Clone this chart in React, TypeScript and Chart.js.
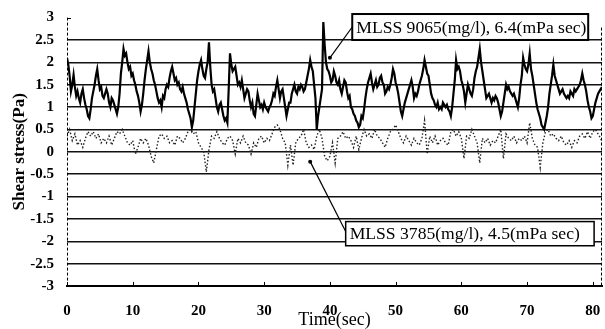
import React, { useEffect, useRef } from "react";
import { Chart, registerables } from "chart.js";

Chart.register(...registerables);

const HIGH_STEP = 0.2; // seconds between samples (MLSS 9065)
const LOW_STEP = 0.4; // seconds between samples (MLSS 3785)
const X_TICKS = [0, 10, 20, 30, 40, 50, 60, 70, 80];

const SERIES_HIGH_LABEL = "MLSS 9065(mg/l), 6.4(mPa sec)";
const SERIES_LOW_LABEL = "MLSS 3785(mg/l), 4.5(mPa sec)";

const highStress = [
  2.1, 1.95, 1.7, 1.35, 1.5, 1.72, 1.45, 1.25, 1.35, 1.2,
  1.1, 1.3, 1.4, 1.2, 1.05, 0.95, 0.8, 0.75, 0.95, 1.2,
  1.35, 1.5, 1.7, 1.85, 1.6, 1.4, 1.45, 1.25, 1.2, 1.3,
  1.4, 1.3, 1.1, 1.0, 1.2, 1.15, 1.05, 0.95, 0.85, 1.0,
  1.3, 1.75, 2.0, 2.3, 2.15, 2.2, 2.0, 1.85, 1.9, 1.7,
  1.75, 1.6, 1.5, 1.35, 1.25, 1.1, 0.9, 1.05, 1.3, 1.6,
  1.85, 2.05, 2.25, 2.0, 1.85, 1.75, 1.6, 1.5, 1.35, 1.2,
  1.1, 1.15, 1.0, 1.25, 1.2, 1.4, 1.5, 1.45, 1.65, 1.8,
  1.9, 1.75, 1.6, 1.65, 1.5, 1.55, 1.4, 1.35, 1.45, 1.3,
  1.2, 1.1, 0.95, 0.85, 0.75, 0.55, 0.7, 1.0, 1.3, 1.6,
  1.8, 1.95, 2.05, 1.85, 1.7, 1.65, 1.85, 2.0, 2.45, 1.9,
  1.5, 1.35, 1.4, 1.2, 1.0, 0.9, 1.05, 1.1, 0.95, 0.8,
  0.7, 0.75, 0.65, 1.4, 2.2, 1.95, 1.8, 1.85, 1.9, 1.7,
  1.5, 1.55, 1.45, 1.6, 1.4, 1.2, 1.3, 1.4, 1.35, 1.15,
  1.0, 1.1, 0.85, 0.8, 1.05, 1.3, 1.15, 1.0, 1.05, 0.95,
  1.1, 1.0, 0.95, 0.9, 1.0, 1.05, 1.15, 1.3, 1.25, 1.45,
  1.6, 1.4, 1.2, 1.35, 1.4, 1.2, 1.0, 0.8, 0.95, 1.1,
  1.1, 1.3, 1.4, 1.5, 1.35, 1.3, 1.45, 1.4, 1.5, 1.45,
  1.35, 1.4, 1.55, 1.7, 1.85, 2.05, 1.9, 1.8, 1.5, 1.2,
  0.5, 0.8, 1.0, 1.2, 1.4, 2.9, 2.4, 2.0, 1.85, 1.8,
  1.7, 1.55, 1.6, 1.8, 1.7, 1.55, 1.5, 1.6, 1.4, 1.3,
  1.45, 1.6, 1.55, 1.35, 1.2, 1.25, 1.0, 0.95, 0.85, 0.8,
  0.7, 0.65, 0.55, 0.6, 0.8, 0.75, 0.95, 1.2, 1.4, 1.55,
  1.65, 1.75, 1.55, 1.4, 1.5, 1.6, 1.45, 1.5, 1.65, 1.7,
  1.55, 1.5, 1.3, 1.35, 1.45, 1.4, 1.5, 1.65, 1.85, 1.75,
  1.55, 1.45, 1.3, 1.1, 0.9, 0.8, 0.95, 1.1, 1.2, 1.3,
  1.4, 1.5, 1.6, 1.45, 1.2, 1.3, 1.25, 1.35, 1.5, 1.6,
  1.7, 1.85, 2.05, 1.9, 1.75, 1.7, 1.5, 1.3, 1.2, 1.15,
  1.05, 1.0, 1.1, 0.95, 1.0, 0.95, 1.1, 1.05, 1.0, 1.05,
  0.95, 0.9, 0.8, 1.0, 1.3, 1.6, 2.05, 1.85, 1.9, 1.8,
  1.6, 1.5, 1.35, 1.1, 1.3, 1.5, 1.4, 1.3, 1.25, 1.4,
  1.65, 1.8, 1.9, 2.1, 2.3, 2.0, 1.8, 1.6, 1.4, 1.2,
  1.25, 1.3, 1.2, 1.1, 1.2, 1.15, 1.25, 1.2, 1.1, 0.95,
  0.8, 0.9, 1.1, 1.3, 1.5, 1.4, 1.45, 1.35, 1.3, 1.25,
  1.3, 1.2, 1.1, 1.0, 1.2, 1.5, 1.7, 2.1, 1.95, 1.85,
  1.8, 1.95, 2.2, 1.85, 1.7, 1.5, 1.3, 1.1, 0.95, 0.85,
  0.75, 0.6, 0.55, 0.5, 0.65, 0.8, 1.0, 1.3, 1.5, 1.7,
  1.95, 1.7, 1.6, 1.5, 1.4, 1.3, 1.35, 1.4, 1.3, 1.25,
  1.2, 1.25, 1.2, 1.35, 1.3, 1.25, 1.4, 1.35, 1.4, 1.45,
  1.5, 1.6, 1.75, 1.6, 1.5, 1.35, 1.15, 1.0, 0.9, 0.75,
  0.8, 0.95, 1.1, 1.2, 1.3, 1.35, 1.4, 1.45,
];

const lowStress = [
  0.35, 0.5, 0.25, 0.4, 0.15, 0.25, 0.1, 0.3, 0.45, 0.35,
  0.45, 0.3, 0.4, 0.2, 0.3, 0.2, 0.35, 0.15, 0.3, 0.45,
  0.4, 0.5, 0.35, 0.2, 0.15, 0.25, -0.05, 0.1, 0.3, 0.2,
  0.3, 0.15, -0.1, -0.25, 0.05, 0.35, 0.4, 0.3, 0.35, 0.2,
  0.25, 0.15, 0.35, 0.3, 0.2, 0.3, 0.45, 0.5, 0.4, 0.45,
  0.2, 0.1, 0.0, -0.45, 0.05, 0.35, 0.3, 0.45, 0.3, 0.2,
  0.15, 0.3, 0.35, 0.25, -0.05, 0.3, 0.2, 0.35, 0.2, 0.15,
  -0.05, 0.2, 0.1, 0.3, 0.35, 0.2, 0.3, 0.25, 0.4, 0.55,
  0.6, 0.5, 0.3, 0.2, -0.3, 0.15, -0.3, 0.2, 0.3, 0.35,
  0.5, 0.2, 0.1, 0.15, 0.05, 0.35, 0.5, 0.3, -0.1, -0.2,
  -0.1, 0.2, -0.25, 0.3, 0.35, 0.45, 0.3, 0.35, 0.25, 0.1,
  0.35, 0.05, 0.3, 0.5, 0.35, 0.4, 0.3, 0.5, 0.35, 0.3,
  0.2, 0.1, 0.3, 0.45, 0.5, 0.6, 0.45, 0.3, 0.2, 0.35,
  0.25, 0.15, 0.3, 0.2, 0.15, 0.3, 0.7, -0.05, 0.35, 0.2,
  0.35, 0.15, 0.25, 0.3, 0.2, 0.15, 0.45, 0.5, 0.35, 0.45,
  0.3, -0.15, 0.35, 0.3, 0.5, 0.35, 0.2, -0.25, 0.3, 0.2,
  0.3, 0.15, 0.25, 0.2, 0.35, 0.5, -0.15, 0.4, 0.3, 0.25,
  0.35, 0.2, 0.3, 0.25, 0.35, 0.2, 0.65, 0.3, 0.15, 0.1,
  -0.35, 0.2, 0.45, 0.5, 0.35, 0.4, 0.3, 0.25, 0.35, 0.2,
  0.15, 0.25, 0.1, 0.25, 0.2, 0.35, 0.4, 0.3, 0.45, 0.3,
  0.45, 0.5, 0.4, 0.3, 0.15,
];

// Callout boxes, anchored in data units (time, stress)
const callouts = [
  { text: SERIES_HIGH_LABEL, x0: 43.4, x1: 79.3, yTop: 3.08, yBot: 2.5, fromX: 43.4, fromY: 2.79, toX: 40.0, toY: 2.1, border: 2 },
  { text: SERIES_LOW_LABEL, x0: 42.4, x1: 80.2, yTop: -1.56, yBot: -2.1, fromX: 42.4, fromY: -1.78, toX: 37.0, toY: -0.22, border: 1.5 },
];

const FONT = "'Liberation Serif', 'Times New Roman', serif";

const toPoints = (arr: number[], step: number) => arr.map((v, i) => ({ x: i * step, y: v }));

const decorPlugin = {
  id: "decor",
  afterDraw(chart: any) {
    const { ctx, chartArea, scales } = chart;
    const xs = scales.x;
    const ys = scales.y;
    ctx.save();
    ctx.strokeStyle = "#000";
    ctx.lineWidth = 1;
    // dashed left axis and right border
    ctx.setLineDash([3, 2]);
    ctx.beginPath();
    ctx.moveTo(chartArea.left + 0.5, chartArea.top);
    ctx.lineTo(chartArea.left + 0.5, chartArea.bottom);
    ctx.moveTo(chartArea.right - 0.5, chartArea.top + 10);
    ctx.lineTo(chartArea.right - 0.5, chartArea.bottom);
    ctx.stroke();
    ctx.setLineDash([]);
    // inner ticks on the time axis
    for (const t of X_TICKS) {
      const px = Math.round(xs.getPixelForValue(t)) + 0.5;
      ctx.beginPath();
      ctx.moveTo(px, chartArea.bottom);
      ctx.lineTo(px, chartArea.bottom - 4);
      ctx.stroke();
    }
    // top tick at 3
    const topY = Math.round(ys.getPixelForValue(3)) + 0.5;
    ctx.beginPath();
    ctx.moveTo(chartArea.left, topY);
    ctx.lineTo(chartArea.left + 4, topY);
    ctx.stroke();
    // callouts
    for (const c of callouts) {
      const fx = xs.getPixelForValue(c.fromX);
      const fy = ys.getPixelForValue(c.fromY);
      const tx = xs.getPixelForValue(c.toX);
      const ty = ys.getPixelForValue(c.toY);
      ctx.strokeStyle = "#000";
      ctx.lineWidth = 1.2;
      ctx.beginPath();
      ctx.moveTo(fx, fy);
      ctx.lineTo(tx, ty);
      ctx.stroke();
      ctx.fillStyle = "#000";
      ctx.beginPath();
      ctx.arc(tx, ty, 2, 0, Math.PI * 2);
      ctx.fill();
      const l = xs.getPixelForValue(c.x0);
      const r = xs.getPixelForValue(c.x1);
      const t = ys.getPixelForValue(c.yTop);
      const b = ys.getPixelForValue(c.yBot);
      ctx.fillStyle = "#fff";
      ctx.fillRect(l, t, r - l, b - t);
      ctx.lineWidth = c.border;
      ctx.strokeRect(l, t, r - l, b - t);
      ctx.fillStyle = "#000";
      ctx.font = `17.6px ${FONT}`;
      ctx.textBaseline = "middle";
      ctx.textAlign = "left";
      ctx.fillText(c.text, l + 4, (t + b) / 2 + 1);
    }
    ctx.restore();
  },
};

export default function App() {
  const ref = useRef<HTMLCanvasElement | null>(null);
  useEffect(() => {
    if (!ref.current) return;
    const chart = new Chart(ref.current, {
      type: "line",
      data: {
        datasets: [
          {
            label: SERIES_HIGH_LABEL,
            data: toPoints(highStress, HIGH_STEP),
            borderColor: "#000",
            borderWidth: 2.2,
            pointRadius: 0,
            tension: 0,
          },
          {
            label: SERIES_LOW_LABEL,
            data: toPoints(lowStress, LOW_STEP),
            borderColor: "#222",
            borderWidth: 1.4,
            borderDash: [1.5, 2],
            pointRadius: 0,
            tension: 0,
          },
        ],
      },
      options: {
        responsive: false,
        animation: false,
        devicePixelRatio: 1,
        layout: { padding: { top: 17.6, right: 3, left: 0, bottom: 0 } },
        plugins: { legend: { display: false }, tooltip: { enabled: false } },
        font: { family: FONT },
        scales: {
          x: {
            type: "linear",
            min: 0,
            max: 81.4,
            ticks: {
              stepSize: 10,
              includeBounds: false,
              padding: 16,
              color: "#000",
              font: { family: FONT, size: 15, weight: "bold" },
              maxRotation: 0,
            },
            grid: { display: false, drawTicks: false },
            border: { display: true, color: "#000", width: 2 },
            title: {
              display: true,
              text: "Time(sec)",
              color: "#000",
              font: { family: FONT, size: 18 },
              padding: { top: 0, bottom: -2 },
            },
            afterFit: (s: any) => {
              s.height = 43;
              s.paddingLeft = 0;
              s.paddingRight = 0;
            },
          },
          y: {
            min: -3,
            max: 3,
            ticks: {
              stepSize: 0.5,
              padding: 13,
              color: "#000",
              font: { family: FONT, size: 15, weight: "bold" },
              callback: (v: any) => String(v),
            },
            grid: {
              color: (c: any) => (c.tick && c.tick.value === 3 ? "rgba(0,0,0,0)" : "#111"),
              lineWidth: 1.5,
              drawTicks: false,
            },
            border: { display: false },
            title: {
              display: true,
              text: "Shear stress(Pa)",
              color: "#000",
              font: { family: FONT, size: 17, weight: "bold" },
              padding: { top: 9, bottom: 0 },
            },
            afterFit: (s: any) => {
              s.width = 67;
              s.paddingTop = 0;
              s.paddingBottom = 0;
            },
          },
        },
      },
      plugins: [decorPlugin],
    });
    return () => chart.destroy();
  }, []);
  return (
    <div style={{ position: "absolute", left: 0, top: 0, width: 605, height: 329, background: "#fff" }}>
      <canvas ref={ref} width={605} height={329} />
    </div>
  );
}
